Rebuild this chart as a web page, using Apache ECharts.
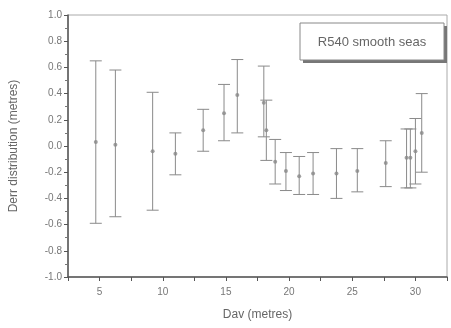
<!DOCTYPE html>
<html><head><meta charset="utf-8">
<script src="https://cdn.jsdelivr.net/npm/echarts@6/dist/echarts.min.js"></script>
<style>html,body{margin:0;padding:0;background:#fff}#c{width:451px;height:328px}</style>
</head><body><div id="c"></div>
<script>
const dav   = [4.7, 6.25, 9.2, 11.0, 13.2, 14.85, 15.9, 18.0, 18.2, 18.9, 19.75, 20.8, 21.9, 23.75, 25.4, 27.65, 29.3, 29.6, 30.0, 30.5];
const mean  = [0.03, 0.01, -0.04, -0.06, 0.12, 0.25, 0.39, 0.33, 0.12, -0.12, -0.19, -0.23, -0.21, -0.21, -0.19, -0.13, -0.09, -0.09, -0.04, 0.10];
const upper = [0.65, 0.58, 0.41, 0.10, 0.28, 0.47, 0.66, 0.61, 0.35, 0.05, -0.05, -0.08, -0.05, -0.02, -0.02, 0.04, 0.13, 0.13, 0.21, 0.40];
const lower = [-0.59, -0.54, -0.49, -0.22, -0.04, 0.04, 0.10, 0.07, -0.11, -0.29, -0.34, -0.37, -0.37, -0.40, -0.35, -0.31, -0.32, -0.32, -0.29, -0.20];
const xTitle = 'Dav (metres)';
const yTitle = 'Derr distribution (metres)';
const legendText = 'R540 smooth seas';

const errData = dav.map((d,i)=>[d, lower[i], upper[i]]);
const ptData = dav.map((d,i)=>[d, mean[i]]);
const chart = echarts.init(document.getElementById('c'));
const gray = '#8a8a8a';
chart.setOption({
  animation:false,
  backgroundColor:'#fff',
  grid:{left:65,right:4,top:15,bottom:51,show:true,borderColor:'#aaa',borderWidth:1},
  xAxis:{type:'value',min:2.5,max:32.5,interval:2.5,
    name:xTitle,nameLocation:'middle',nameGap:32,
    nameTextStyle:{color:'#666',fontSize:12,fontFamily:'Liberation Sans'},
    axisLine:{onZero:false,lineStyle:{color:'#555',width:1.5}},
    axisTick:{show:true,length:4,lineStyle:{color:'#555'}},
    axisLabel:{color:'#777',fontSize:10,fontFamily:'Liberation Sans',margin:10,
      formatter:v=> (Math.abs(v%5)<1e-6 ? String(v) : '')},
    splitLine:{show:false}},
  yAxis:{type:'value',min:-1,max:1,interval:0.2,
    name:yTitle,nameLocation:'middle',nameGap:48,
    nameTextStyle:{color:'#666',fontSize:12,fontFamily:'Liberation Sans'},
    axisLine:{show:true,onZero:false,lineStyle:{color:'#555',width:1.5}},
    axisTick:{show:true,length:4,lineStyle:{color:'#555'}},
    minorTick:{show:true,splitNumber:2,length:3,lineStyle:{color:'#777'}},
    axisLabel:{color:'#777',fontSize:10,fontFamily:'Liberation Sans',margin:6,
      formatter:v=>v.toFixed(1)},
    splitLine:{show:false}},
  series:[
    {type:'custom',data:errData,z:2,
     renderItem:function(params,api){
       const x=api.value(0);
       const lo=api.coord([x,api.value(1)]);
       const hi=api.coord([x,api.value(2)]);
       const w=6;
       const st={stroke:gray,lineWidth:1};
       return {type:'group',children:[
         {type:'line',shape:{x1:hi[0],y1:hi[1],x2:lo[0],y2:lo[1]},style:st},
         {type:'line',shape:{x1:hi[0]-w,y1:hi[1],x2:hi[0]+w,y2:hi[1]},style:st},
         {type:'line',shape:{x1:lo[0]-w,y1:lo[1],x2:lo[0]+w,y2:lo[1]},style:st}
       ]};
     }},
    {type:'scatter',data:ptData,symbol:'circle',symbolSize:4,z:3,
     itemStyle:{color:'#888'}}
  ],
  graphic:[
    {type:'rect',shape:{x:303,y:26,width:144,height:37},style:{fill:'#777'},z:10},
    {type:'rect',shape:{x:300,y:23,width:144,height:37},style:{fill:'#fff',stroke:'#888',lineWidth:1},z:11},
    {type:'text',x:372,y:42,style:{text:legendText,fill:'#666',fontSize:13,fontFamily:'Liberation Sans',align:'center',verticalAlign:'middle'},z:12}
  ]
});
</script></body></html>
